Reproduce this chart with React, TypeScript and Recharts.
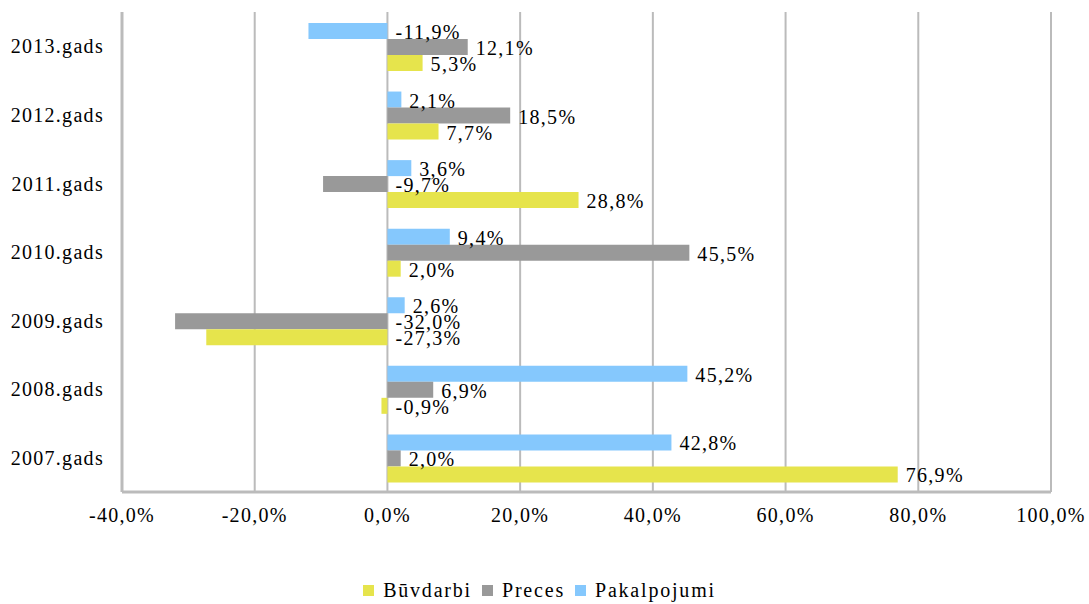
import { BarChart, Bar, XAxis, YAxis, CartesianGrid, LabelList } from 'recharts';

const years = ['2013.gads', '2012.gads', '2011.gads', '2010.gads', '2009.gads', '2008.gads', '2007.gads'];
const pakalpojumi = [-11.9, 2.1, 3.6, 9.4, 2.6, 45.2, 42.8];
const preces = [12.1, 18.5, -9.7, 45.5, -32.0, 6.9, 2.0];
const buvdarbi = [5.3, 7.7, 28.8, 2.0, -27.3, -0.9, 76.9];
const xTicks = [-40, -20, 0, 20, 40, 60, 80, 100];

// draw order top-to-bottom inside a group
const series = [
  { key: 'pakalpojumi', name: 'Pakalpojumi', color: '#85C8FD' },
  { key: 'preces', name: 'Preces', color: '#999999' },
  { key: 'buvdarbi', name: 'Būvdarbi', color: '#E6E44C' },
];
const legendOrder = ['buvdarbi', 'preces', 'pakalpojumi'];

const data = years.map((year, i) => ({
  year,
  pakalpojumi: pakalpojumi[i],
  preces: preces[i],
  buvdarbi: buvdarbi[i],
}));

const font = '"Liberation Serif", "Times New Roman", serif';
const border = '#BBBBBB';
const fs = 20;
const ls = 1.3;

const fmt = (v: number) => v.toFixed(1).replace('.', ',') + '%';

const ValueLabel = (props: any) => {
  const { x, y, width, height, value } = props;
  const right = Math.max(x, x + width);
  return (
    <text
      x={right + 8}
      y={y + height / 2 + 1}
      dominantBaseline="central"
      fontFamily={font}
      fontSize={fs}
      letterSpacing={ls}
      fill="#000"
    >
      {fmt(value)}
    </text>
  );
};

export default function App() {
  return (
    <div style={{ position: 'absolute', left: 0, top: 0, width: 1089, height: 604, background: '#fff' }}>
      <BarChart
        width={1089}
        height={604}
        data={data}
        layout="vertical"
        margin={{ top: 12, right: 38, left: 0, bottom: 82 }}
        barCategoryGap="16%"
        barGap={0}
      >
        <CartesianGrid horizontal={false} stroke={border} strokeWidth={2} />
        <XAxis
          type="number"
          domain={[-40, 100]}
          ticks={xTicks}
          tickFormatter={fmt}
          axisLine={{ stroke: border, strokeWidth: 3 }}
          tickLine={false}
          tickSize={0}
          tickMargin={16}
          height={30}
          interval={0}
          tick={{ fontFamily: font, fontSize: fs, letterSpacing: ls, fill: '#000' }}
        />
        <XAxis
          xAxisId="top"
          orientation="top"
          type="number"
          domain={[-40, 100]}
          ticks={xTicks}
          axisLine={{ stroke: border, strokeWidth: 3 }}
          tick={false}
          tickLine={false}
          height={0}
        />
        <YAxis
          type="category"
          dataKey="year"
          width={122}
          axisLine={{ stroke: border, strokeWidth: 3 }}
          tickLine={false}
          tickSize={0}
          tickMargin={18}
          tick={{ fontFamily: font, fontSize: fs, letterSpacing: ls, fill: '#000' }}
        />
        <YAxis
          yAxisId="right"
          orientation="right"
          type="category"
          dataKey="year"
          width={0}
          axisLine={{ stroke: border, strokeWidth: 3 }}
          tick={false}
          tickLine={false}
        />
        {series.map((s) => (
          <Bar key={s.key} dataKey={s.key} name={s.name} fill={s.color} isAnimationActive={false}>
            <LabelList dataKey={s.key} content={ValueLabel} />
          </Bar>
        ))}
      </BarChart>
      <div
        style={{
          position: 'absolute',
          top: 579,
          left: 0,
          width: 1089,
          display: 'flex',
          justifyContent: 'center',
          fontFamily: font,
          fontSize: fs,
          letterSpacing: 1.8,
          color: '#000',
        }}
      >
        {legendOrder.map((k) => {
          const s = series.find((x) => x.key === k)!;
          return (
            <div key={k} style={{ display: 'flex', alignItems: 'center', margin: '0 10px 0 0' }}>
              <span style={{ width: 11, height: 11, background: s.color, display: 'inline-block', marginRight: 9 }} />
              <span>{s.name}</span>
            </div>
          );
        })}
      </div>
    </div>
  );
}
